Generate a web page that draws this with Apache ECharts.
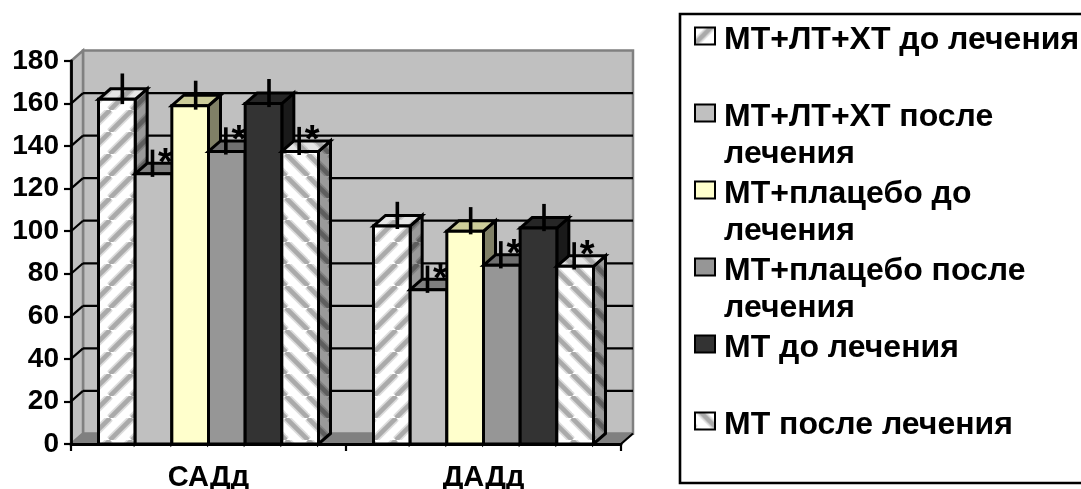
<!DOCTYPE html>
<html><head><meta charset="utf-8">
<script src="https://cdn.jsdelivr.net/npm/echarts@6/dist/echarts.min.js"></script>
<style>html,body{margin:0;padding:0;background:#fff}#c{width:1081px;height:489px}</style>
</head><body><div id="c"></div>
<script>
const categories = ['САДд', 'ДАДд'];
const yTicks = [0,20,40,60,80,100,120,140,160,180];
const names = ['МТ+ЛТ+ХТ до лечения\n ','МТ+ЛТ+ХТ после\nлечения','МТ+плацебо до\nлечения','МТ+плацебо после\nлечения','МТ до лечения\n ','МТ после лечения\n '];
const mtLtXtBefore = [162, 102.5];
const mtLtXtAfter = [127, 72.5];
const mtPlaceboBefore = [159, 100];
const mtPlaceboAfter = [137.5, 84];
const mtBefore = [160, 101.5];
const mtAfter = [137.5, 83.5];
const errBefore1 = [7.2, 6.4];
const errAfter1 = [6.4, 6.4];
const errBefore2 = [6.8, 6.4];
const errAfter2 = [6.4, 6.4];
const errBefore3 = [6.6, 6.4];
const errAfter3 = [6.6, 6.4];
const stars = [false, true, false, true, false, true];

const values = [mtLtXtBefore, mtLtXtAfter, mtPlaceboBefore, mtPlaceboAfter, mtBefore, mtAfter];
const errs = [errBefore1, errAfter1, errBefore2, errAfter2, errBefore3, errAfter3];

function stripes(dir, bg, soft, fg){
  const T = 22;
  const c = document.createElement('canvas'); c.width = c.height = T;
  const g = c.getContext('2d');
  g.fillStyle = bg; g.fillRect(0,0,T,T);
  [[8,soft],[4.5,fg]].forEach(([w,col])=>{
    g.strokeStyle = col; g.lineWidth = w;
    for (let k=-T;k<=2*T;k+=T){
      g.beginPath();
      if (dir>0){ g.moveTo(k,T); g.lineTo(k+T,0); }
      else { g.moveTo(k,0); g.lineTo(k+T,T); }
      g.stroke();
    }
  });
  return {image:c, repeat:'repeat'};
}
const faces = [
  {front:stripes(1,'#ffffff','#dcdcdc','#aaaaaa'), top:stripes(1,'#e6e6e6','#cccccc','#a8a8a8'), side:stripes(1,'#9a9a9a','#808080','#5e5e5e')},
  {front:'#c0c0c0', top:'#808080', side:'#808080'},
  {front:'#ffffcc', top:'#cccc99', side:'#808066'},
  {front:'#969696', top:'#707070', side:'#4b4b4b'},
  {front:'#333333', top:'#262626', side:'#1a1a1a'},
  {front:stripes(-1,'#ffffff','#dcdcdc','#aaaaaa'), top:stripes(-1,'#e6e6e6','#cccccc','#a8a8a8'), side:stripes(-1,'#9a9a9a','#808080','#5e5e5e')}
];
const DX = 12, DY = 10.5, BW = 220/6/275;
const ICON = 'path://M0 12H20V29H0Z M0 75L0 75';

function wall(params, api){
  const c = [];
  const o = api.coord([0, 0]), sz = api.size([1, 0])[0];
  const x0 = o[0] - sz/2, x1 = x0 + 2*sz, y0 = o[1];
  const yT = api.coord([0, 180])[1];
  c.push({type:'polygon',shape:{points:[[x0+DX,yT-DY],[x1+DX,yT-DY],[x1+DX,y0-DY],[x0+DX,y0-DY]]},style:{fill:'#c0c0c0',stroke:'#808080',lineWidth:2.5}});
  c.push({type:'polygon',shape:{points:[[x0,yT],[x0+DX,yT-DY],[x0+DX,y0-DY],[x0,y0]]},style:{fill:'#c0c0c0',stroke:'#808080',lineWidth:2.5}});
  c.push({type:'polygon',shape:{points:[[x0,y0],[x0+DX,y0-DY],[x1+DX,y0-DY],[x1,y0]]},style:{fill:'#808080',stroke:'#808080',lineWidth:1}});
  yTicks.forEach(v=>{
    const y = api.coord([0,v])[1];
    if (v>0 && v<180) c.push({type:'line',shape:{x1:x0+DX,y1:y-DY,x2:x1+DX,y2:y-DY},style:{stroke:'#000',lineWidth:2.2}});
    if (v>0 && v<180) c.push({type:'line',shape:{x1:x0,y1:y,x2:x0+DX,y2:y-DY},style:{stroke:'#000',lineWidth:2.2}});
  });
  c.push({type:'line',shape:{x1:x1,y1:y0,x2:x1+DX,y2:y0-DY},style:{stroke:'#000',lineWidth:2.2}});
  return {type:'group',children:c};
}
function bar(si){
  return function(params, api){
    const cat = api.value(0), val = api.value(1), err = api.value(2);
    const sz = api.size([1,0])[0], w = sz*BW;
    const p = api.coord([cat,val]), b = api.coord([cat,0]);
    const l = p[0] - 3*w + si*w, r = l + w, t = p[1], y0 = b[1];
    const f = faces[si], S = {stroke:'#000',lineWidth:3,lineJoin:'miter'};
    const ch = [
      {type:'polygon',shape:{points:[[r,t],[r+DX,t-DY],[r+DX,y0-DY],[r,y0]]},style:Object.assign({fill:f.side},S)},
      {type:'polygon',shape:{points:[[l,t],[l+DX,t-DY],[r+DX,t-DY],[r,t]]},style:Object.assign({fill:f.top},S)},
      {type:'rect',shape:{x:l,y:t,width:w,height:y0-t},style:Object.assign({fill:f.front},S)}
    ];
    const ex = (l+r)/2 + (stars[si] ? -1 : 5.5), hi = api.coord([cat,val+err])[1], lo = api.coord([cat,val-err])[1];
    ch.push({type:'line',shape:{x1:ex,y1:hi-DY,x2:ex,y2:lo-DY},style:{stroke:'#000',lineWidth:3.6}});
    if (stars[si]) ch.push({type:'text',style:{text:'*',x:ex+13,y:(hi+lo)/2-DY+1,align:'center',verticalAlign:'middle',font:'bold 38px "Liberation Sans"',fill:'#000'}});
    return {type:'group',children:ch};
  };
}
const series = [{type:'custom',silent:true,z:1,renderItem:wall,data:[[0]],encode:{x:0,y:0},legendHoverLink:false}];
names.forEach((n,si)=>{
  series.push({type:'custom',name:n,z:2+si,silent:true,renderItem:bar(si),
    itemStyle:{color:faces[si].front,borderColor:'#000',borderWidth:2.6},
    encode:{x:0,y:1},
    data:categories.map((c,i)=>[i,values[si][i],errs[si][i]])});
});
const chart = echarts.init(document.getElementById('c'),null,{renderer:'canvas'});
const F = '"Liberation Sans", Arial, sans-serif';
chart.setOption({
  animation:false,
  grid:{left:71,right:460,top:61,bottom:45,outerBoundsMode:'none'},
  xAxis:{type:'category',data:categories,boundaryGap:true,z:20,
    axisLine:{lineStyle:{color:'#000',width:2.8}},
    axisTick:{show:true,alignWithLabel:false,length:7,lineStyle:{color:'#000',width:2.2}},
    axisLabel:{color:'#000',fontFamily:F,fontWeight:'bold',fontSize:29,margin:19}},
  yAxis:{type:'value',min:0,max:180,interval:20,z:20,
    axisLine:{show:true,lineStyle:{color:'#000',width:2.8}},
    axisTick:{show:true,length:7,lineStyle:{color:'#000',width:2.2}},
    splitLine:{show:false},
    axisLabel:{color:'#000',fontFamily:F,fontWeight:'bold',fontSize:28,margin:12}},
  legend:{orient:'vertical',left:694,top:22,padding:0,itemGap:3,itemWidth:20,itemHeight:75,
    icon:ICON,data:names,selectedMode:false,
    textStyle:{color:'#000',fontFamily:F,fontWeight:'bold',fontSize:32,lineHeight:37,padding:[0,0,0,4]}},
  graphic:[{type:'rect',silent:true,shape:{x:680,y:14,width:420,height:469},style:{fill:'none',stroke:'#000',lineWidth:2.6}}],
  series
});
</script></body></html>
